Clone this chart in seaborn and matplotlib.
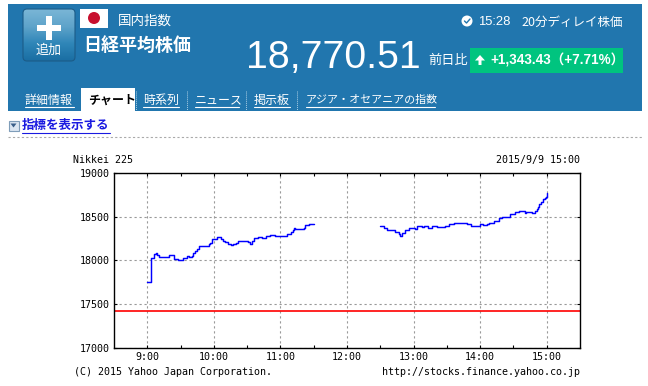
import matplotlib
matplotlib.use("Agg")
import matplotlib.pyplot as plt
import numpy as np
import pandas as pd
import seaborn as sns
from matplotlib.patches import Circle, FancyBboxPatch, Rectangle

# minutes after 9:00 and index level
am_minutes = [0, 3.6, 6.3, 7.8, 8.4, 10.8, 14.4, 18.9, 19.8, 21.9, 23.7, 27.9, 32.4, 35.4, 37.8, 39.9,
              41.4, 42.9, 45, 46.2, 48.9, 55.5, 56.4, 57.9, 60, 63, 64.8, 66.6, 67.8, 70, 72.9, 75,
              77.4, 79.8, 81.9, 85.8, 91.2, 93, 94.8, 96.3, 100.2, 103.5, 107.4, 111, 114.9, 118.5,
              126, 129.9, 131.1, 132, 133.5, 135.9, 141, 141.9, 145.8, 150.3]
am_price = [17757, 18023, 18072, 18087, 18060, 18045, 18038, 18038, 18068, 18068, 18015, 18000,
            18023, 18053, 18045, 18057, 18080, 18114, 18137, 18167, 18163, 18186, 18201, 18240,
            18247, 18273, 18265, 18250, 18224, 18212, 18194, 18182, 18190, 18205, 18227, 18223,
            18212, 18193, 18227, 18262, 18270, 18258, 18280, 18295, 18277, 18280, 18299, 18322,
            18345, 18375, 18364, 18364, 18375, 18405, 18413, 18420]
pm_minutes = [210, 213.6, 216, 222, 223.5, 226.5, 228, 229.5, 232.5, 235.5, 241.5, 243, 247.5,
              249, 252.6, 256.5, 261, 268.5, 271.5, 276, 285, 288, 291.9, 295.8, 300, 303, 306,
              308.4, 312.9, 316.8, 319.8, 323.7, 326.7, 331.2, 334.8, 340.2, 341.7, 347.1, 349.5,
              351, 352.2, 353.4, 355.2, 356.4, 358.2, 359.4, 360.3, 360.4]
pm_price = [18398, 18375, 18345, 18352, 18322, 18299, 18284, 18318, 18345, 18367, 18360, 18394,
            18379, 18394, 18375, 18390, 18379, 18398, 18420, 18428, 18428, 18413, 18390, 18398,
            18417, 18402, 18413, 18424, 18451, 18489, 18500, 18496, 18534, 18557, 18561, 18542,
            18549, 18545, 18565, 18591, 18610, 18640, 18667, 18700, 18712, 18720, 18740, 18770]
prev_close = 17427.08

hours = [9, 10, 11, 12, 13, 14, 15]
hour_labels = ["9:00", "10:00", "11:00", "12:00", "13:00", "14:00", "15:00"]
half_hours = [9.5, 10.5, 11.5, 12.5, 13.5, 14.5]
levels = [17000, 17500, 18000, 18500, 19000]

BANNER = "#2176ae"
JP = ["Noto Sans CJK JP", "DejaVu Sans"]
NUM = ["Liberation Sans", "Noto Sans CJK JP"]
MONO = "DejaVu Sans Mono"
PX = 0.72

sns.set_theme(style="white")
plt.rcParams["font.family"] = JP

fig = plt.figure(figsize=(6.48, 3.86), dpi=100, facecolor="white")

# page furniture, drawn in pixel coordinates
page = fig.add_axes([0, 0, 1, 1])
page.axis("off")


def label(x, y, s, size, color="white", ha="left", weight="normal", family=JP, under=None):
    page.text(x, y, s, fontsize=size * PX, color=color, ha=ha, va="center",
              fontweight=weight, family=family)
    if under:
        page.plot(under, [y + size * 0.6] * 2, color=color, lw=0.8)


page.add_patch(Rectangle((8, 4), 634, 107, color=BANNER, lw=0, zorder=0))

# add button
btn = FancyBboxPatch((25, 11), 48, 48, boxstyle="round,pad=2,rounding_size=4",
                     fc="none", ec="#1c5c88", lw=0.8, zorder=2)
page.add_patch(btn)
grad = page.imshow(np.linspace(0, 1, 50).reshape(-1, 1), extent=(23, 75, 61, 9), aspect="auto", zorder=1,
                   cmap=matplotlib.colors.LinearSegmentedColormap.from_list(
                       "btn", ["#7ab6d6", "#5ea3ca", "#2f86b8", "#1a6ea3"]))
grad.set_clip_path(btn)
page.set_xlim(0, 648)
page.set_ylim(386, 0)
page.add_patch(Rectangle((46, 16), 6, 24, color="white", lw=0, zorder=3))
page.add_patch(Rectangle((37, 25), 24, 6, color="white", lw=0, zorder=3))
label(49, 50, "追加", 13, ha="center")

# flag
page.add_patch(Rectangle((80, 9), 28, 19, color="white", lw=0))
page.add_patch(Circle((94, 18), 6, color="#c8102e", lw=0))

label(118, 21, "国内指数", 13.5)
label(83, 46, "日経平均株価", 18, weight="bold")
label(246, 58, "18,770.51", 39.3, family="Liberation Sans")

# clock and delay note
page.add_patch(Circle((467, 21), 5.5, color="white", lw=0))
page.plot([464.5, 466.5, 470], [21, 23, 19], color=BANNER, lw=1)
label(478, 22, "15:28", 13, family="Liberation Sans")
label(521, 22, "20分ディレイ株価", 12.5)

label(428, 60, "前日比", 13.2)
page.add_patch(Rectangle((470, 48), 153, 25, color="#00c47f", lw=0))
page.fill([480, 475, 478.5, 478.5, 481.5, 481.5, 485], [55, 60.5, 60.5, 65, 65, 60.5, 60.5], color="white", lw=0)
label(490, 60, "+1,343.43（+7.71%）", 13.5, weight="bold", family=NUM)

# tabs
page.add_patch(Rectangle((81, 88), 54, 23, color="white", lw=0))
label(25, 100, "詳細情報", 12, under=(25, 74))
label(88, 100, "チャート", 12, color="black", weight="bold")
label(143, 100, "時系列", 12, under=(143, 179))
label(195, 100, "ニュース", 12, under=(195, 239))
label(254, 100, "掲示板", 12, under=(254, 290))
label(306, 100, "アジア・オセアニアの指数", 11, under=(306, 435))
for sep in [135.5, 187, 245.5, 297]:
    page.plot([sep, sep], [91, 110], color="#a9cde3", lw=0.7, ls=(0, (1, 1)))

# indicator toggle
page.add_patch(Rectangle((8.5, 120.5), 10, 10, fc="#dbe6f2", ec="#7f9db9", lw=0.8))
page.fill([10.5, 16.5, 13.5], [123.5, 123.5, 127.5], color="#3a5f8a", lw=0)
label(22, 125, "指標を表示する", 12.5, color="#1a1ae0", weight="bold", under=(22, 110))
page.plot([8, 642], [137, 137], color="#aaaaaa", lw=0.8, ls=(0, (2, 2)))

# chart
ax = fig.add_axes([114 / 648, 1 - 348 / 386, 466 / 648, 175 / 386], facecolor="white")
am = pd.DataFrame({"hour": 9 + np.array(am_minutes) / 60, "price": am_price})
pm = pd.DataFrame({"hour": 9 + np.array(pm_minutes) / 60, "price": pm_price})
sns.lineplot(data=am, x="hour", y="price", ax=ax, color="#0000ff", lw=1.05, drawstyle="steps-post", zorder=3)
sns.lineplot(data=pm, x="hour", y="price", ax=ax, color="#0000ff", lw=1.05, drawstyle="steps-post", zorder=3)
ax.axhline(prev_close, color="#ff0000", lw=1.2, zorder=2)

ax.set_xlim(8.5, 15.5)
ax.set_ylim(17000, 19000)
ax.set_xlabel("")
ax.set_ylabel("")
ax.set_xticks(hours, hour_labels, fontsize=10 * PX, family=MONO, color="black")
ax.set_xticks(half_hours, minor=True)
ax.set_yticks(levels, [str(v) for v in levels], fontsize=10 * PX, family=MONO, color="black")
ax.tick_params(axis="both", which="both", direction="in", top=True, right=True, bottom=True, left=True,
               length=2, width=0.8, color="black", pad=3)
ax.grid(True, which="major", color="#999999", lw=0.8, ls=(0, (2, 2.5)))
ax.set_axisbelow(True)
for s in ax.spines.values():
    s.set_color("black")
    s.set_linewidth(1)

label(73, 160, "Nikkei 225", 10, color="black", family=MONO)
label(580, 160, "2015/9/9 15:00", 10, color="black", ha="right", family=MONO)
label(74, 372, "(C) 2015 Yahoo Japan Corporation.", 10, color="black", family=MONO)
label(580, 372, "http://stocks.finance.yahoo.co.jp", 10, color="black", ha="right", family=MONO)

fig.savefig("out.png", dpi=100)
